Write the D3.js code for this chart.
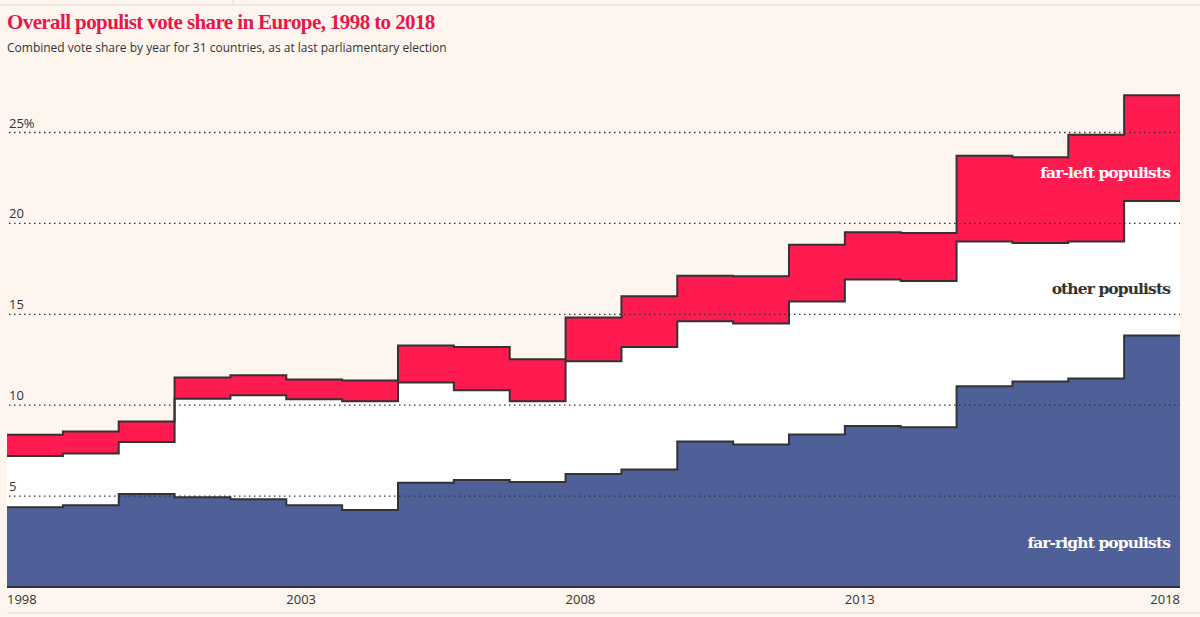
<!DOCTYPE html>
<html>
<head>
<meta charset="utf-8">
<script src="https://cdnjs.cloudflare.com/ajax/libs/d3/7.8.5/d3.min.js"></script>
<style>
  html, body { margin: 0; padding: 0; background: #fdf5ee; }
  #chart { width: 1200px; height: 617px; }
</style>
</head>
<body>
<div id="chart"></div>
<script>
const years = [1998, 1999, 2000, 2001, 2002, 2003, 2004, 2005, 2006, 2007, 2008,
               2009, 2010, 2011, 2012, 2013, 2014, 2015, 2016, 2017, 2018];
const farRight = [4.38, 4.50, 5.11, 4.93, 4.82, 4.49, 4.23, 5.73, 5.88, 5.77, 6.21,
                  6.47, 8.00, 7.84, 8.39, 8.85, 8.79, 11.04, 11.30, 11.47, 13.83];
const otherPop = [2.82, 2.85, 2.86, 5.42, 5.73, 5.84, 5.99, 5.52, 4.94, 4.45, 6.21,
                  6.73, 6.62, 6.65, 7.32, 8.07, 8.04, 7.97, 7.62, 7.54, 7.40];
const farLeft = [1.17, 1.20, 1.13, 1.17, 1.10, 1.08, 1.14, 2.03, 2.38, 2.31, 2.40,
                 2.79, 2.50, 2.60, 3.12, 2.60, 2.64, 4.71, 4.72, 5.86, 5.82];
const yTicks = [5, 10, 15, 20, 25];
const xTicks = [1998, 2003, 2008, 2013, 2018];

const width = 1200, height = 617;
const svg = d3.select("#chart").append("svg")
    .attr("width", width)
    .attr("height", height);

// page rules
svg.append("line").attr("x1", 0).attr("x2", width).attr("y1", 5).attr("y2", 5)
    .attr("stroke", "#e3ddd6").attr("stroke-width", 1);
svg.append("line").attr("x1", 233).attr("x2", 233).attr("y1", 0).attr("y2", 5)
    .attr("stroke", "#e3ddd6").attr("stroke-width", 1);
svg.append("line").attr("x1", 7).attr("x2", width).attr("y1", 613).attr("y2", 613)
    .attr("stroke", "#e3ddd6").attr("stroke-width", 1);

svg.append("text")
    .attr("x", 7).attr("y", 29)
    .attr("fill", "#e8174a")
    .style("font-family", "'Liberation Serif', serif")
    .style("font-weight", "bold")
    .style("font-size", "21px")
    .style("letter-spacing", "-0.6px")
    .text("Overall populist vote share in Europe, 1998 to 2018");

svg.append("text")
    .attr("x", 7).attr("y", 52)
    .attr("fill", "#333")
    .style("font-family", "'Open Sans', sans-serif")
    .style("font-size", "12px")
    .text("Combined vote share by year for 31 countries, as at last parliamentary election");

// data table
const table = years.map((y, i) => ({year: y, right: farRight[i], other: otherPop[i], left: farLeft[i]}));
// extra point so the last step gets its full width
table.push(Object.assign({}, table[table.length - 1], {year: 2019}));

const stack = d3.stack().keys(["right", "other", "left"]);
const series = stack(table);

const x = d3.scaleLinear().domain([1998, 2019]).range([7, 1180]);
const y = d3.scaleLinear().domain([0, 25]).range([587, 132.5]);

const colors = {right: "#4f6098", other: "#ffffff", left: "#ff1a50"};

const area = d3.area()
    .curve(d3.curveStepAfter)
    .x(d => x(d.data.year))
    .y0(d => y(d[0]))
    .y1(d => y(d[1]));

svg.selectAll("path.band")
    .data(series)
    .enter().append("path")
    .attr("class", "band")
    .attr("d", area)
    .attr("fill", d => colors[d.key]);

// gridlines
const grid = svg.append("g");
grid.selectAll("line")
    .data(yTicks)
    .enter().append("line")
    .attr("x1", 9).attr("x2", 1180)
    .attr("y1", d => y(d)).attr("y2", d => y(d))
    .attr("stroke", "#333")
    .attr("stroke-width", 1.3)
    .attr("stroke-dasharray", "1.5,3.5");

grid.selectAll("text")
    .data(yTicks)
    .enter().append("text")
    .attr("x", 9)
    .attr("y", d => y(d) - 5)
    .attr("fill", "#333")
    .style("font-family", "'Open Sans', sans-serif")
    .style("font-size", "13px")
    .text(d => d === 25 ? "25%" : d);

// step outlines
const line = d3.line()
    .curve(d3.curveStepAfter)
    .x(d => x(d.data.year))
    .y(d => y(d[1]));

svg.selectAll("path.edge")
    .data(series)
    .enter().append("path")
    .attr("class", "edge")
    .attr("d", line)
    .attr("fill", "none")
    .attr("stroke", "#333")
    .attr("stroke-width", 2);

// baseline
svg.append("line")
    .attr("x1", 7).attr("x2", 1180)
    .attr("y1", y(0)).attr("y2", y(0))
    .attr("stroke", "#2b2f45").attr("stroke-width", 2);

// x labels
svg.selectAll("text.xl")
    .data(xTicks)
    .enter().append("text")
    .attr("class", "xl")
    .attr("x", d => d === 2018 ? x(2019) : x(d))
    .attr("y", 604)
    .attr("text-anchor", d => d === 2018 ? "end" : "start")
    .attr("fill", "#333")
    .style("font-family", "'Open Sans', sans-serif")
    .style("font-size", "13px")
    .text(d => d);

// series labels
const labels = [
    {text: "far-left populists", yv: 22.5, color: "#ffffff"},
    {text: "other populists", yv: 16.1, color: "#333"},
    {text: "far-right populists", yv: 2.15, color: "#ffffff"}
];
svg.selectAll("text.sl")
    .data(labels)
    .enter().append("text")
    .attr("class", "sl")
    .attr("x", 1170)
    .attr("y", d => y(d.yv))
    .attr("text-anchor", "end")
    .attr("fill", d => d.color)
    .style("font-family", "'DejaVu Serif', serif")
    .style("font-weight", "bold")
    .style("font-size", "15.5px")
    .style("letter-spacing", "-0.9px")
    .text(d => d.text);
</script>
</body>
</html>
